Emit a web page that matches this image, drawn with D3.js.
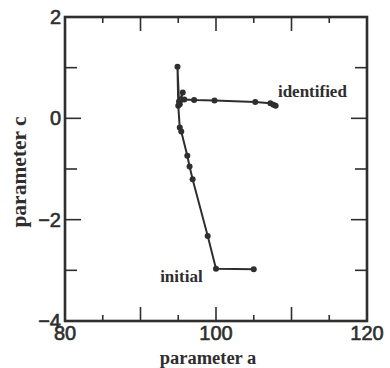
<!DOCTYPE html>
<html>
<head>
<meta charset="utf-8">
<script src="https://cdn.jsdelivr.net/npm/d3@7"></script>
<style>
  html, body { margin: 0; padding: 0; background: #fff; }
  svg { display: block; }
</style>
</head>
<body>
<svg id="chart" width="390" height="368"></svg>
<script>
// Path of the parameter estimate, from the initial guess to the identified value
const paramA = [105.0, 100.0, 98.9, 96.9, 96.5, 96.2, 95.4, 95.2, 95.0, 94.9, 95.1, 95.6, 95.2, 95.8, 97.1, 99.8, 105.2, 107.2, 107.6, 107.9];
const paramC = [-2.98, -2.97, -2.32, -1.20, -0.95, -0.74, -0.26, -0.18, 0.25, 1.02, 0.33, 0.51, 0.28, 0.37, 0.36, 0.35, 0.32, 0.30, 0.27, 0.25];

const xMajorTicks = [80, 100, 120];
const xAllTicks = [80, 85, 90, 95, 100, 105, 110, 115, 120];
const yMajorTicks = [2, 0, -2, -4];
const yAllTicks = [2, 1, 0, -1, -2, -3, -4];

const labels = [
  { text: "identified", a: 108.2, c: 0.42 },
  { text: "initial", a: 92.6, c: -3.23 }
];

const ink = "#2e2e2e";
const svg = d3.select("#chart");
const plotLeft = 65, plotRight = 367, plotTop = 17, plotBottom = 321;

const x = d3.scaleLinear().domain([80, 120]).range([plotLeft, plotRight]);
const y = d3.scaleLinear().domain([-4, 2]).range([plotBottom, plotTop]);

const isMajorX = v => v % 10 === 0;
const isMajorY = v => v % 2 === 0;

// Inward ticks on all four sides
const g = svg.append("g").attr("stroke", ink).attr("stroke-width", 1.6);
xAllTicks.forEach(v => {
  const len = isMajorX(v) ? 14 : 6;
  g.append("line").attr("x1", x(v)).attr("x2", x(v)).attr("y1", plotBottom).attr("y2", plotBottom - len);
  g.append("line").attr("x1", x(v)).attr("x2", x(v)).attr("y1", plotTop).attr("y2", plotTop + len);
});
yAllTicks.forEach(v => {
  const len = isMajorY(v) ? 16 : 12;
  g.append("line").attr("y1", y(v)).attr("y2", y(v)).attr("x1", plotLeft).attr("x2", plotLeft + len);
  g.append("line").attr("y1", y(v)).attr("y2", y(v)).attr("x1", plotRight).attr("x2", plotRight - len);
});

// Frame
svg.append("rect")
  .attr("x", plotLeft).attr("y", plotTop)
  .attr("width", plotRight - plotLeft).attr("height", plotBottom - plotTop)
  .attr("fill", "none").attr("stroke", ink).attr("stroke-width", 2.6);

// Tick labels
const tickFont = "Liberation Sans, Arial, sans-serif";
svg.append("g").selectAll("text").data(xMajorTicks).join("text")
  .attr("x", d => x(d)).attr("y", plotBottom + 19)
  .attr("text-anchor", "middle")
  .attr("font-family", tickFont).attr("font-size", 20)
  .attr("fill", ink).attr("stroke", ink).attr("stroke-width", 0.6)
  .text(d => d);
svg.append("g").selectAll("text").data(yMajorTicks).join("text")
  .attr("x", plotLeft - 4).attr("y", d => y(d) + 7)
  .attr("text-anchor", "end")
  .attr("font-family", tickFont).attr("font-size", 20)
  .attr("fill", ink).attr("stroke", ink).attr("stroke-width", 0.6)
  .text(d => d < 0 ? "\u2212" + Math.abs(d) : d);

// Axis titles
const titleFont = "Liberation Serif, Times New Roman, serif";
svg.append("text")
  .attr("x", 208).attr("y", 364)
  .attr("text-anchor", "middle")
  .attr("font-family", titleFont).attr("font-weight", "bold").attr("font-size", 18.5)
  .attr("fill", ink)
  .text("parameter a");
svg.append("text")
  .attr("transform", `translate(26,${172}) rotate(-90)`)
  .attr("text-anchor", "middle")
  .attr("font-family", titleFont).attr("font-weight", "bold").attr("font-size", 21.5)
  .attr("fill", ink)
  .text("parameter c");

// Trajectory line and points
const pts = paramA.map((a, i) => [a, paramC[i]]);
svg.append("path")
  .datum(pts)
  .attr("d", d3.line().x(d => x(d[0])).y(d => y(d[1])))
  .attr("fill", "none").attr("stroke", ink).attr("stroke-width", 2)
  .attr("stroke-linejoin", "round");
svg.append("g").selectAll("circle").data(pts).join("circle")
  .attr("cx", d => x(d[0])).attr("cy", d => y(d[1]))
  .attr("r", 3).attr("fill", ink);

// Annotations
svg.append("g").selectAll("text").data(labels).join("text")
  .attr("x", d => x(d.a)).attr("y", d => y(d.c))
  .attr("font-family", titleFont).attr("font-weight", "bold").attr("font-size", 17)
  .attr("fill", ink)
  .text(d => d.text);
</script>
</body>
</html>
